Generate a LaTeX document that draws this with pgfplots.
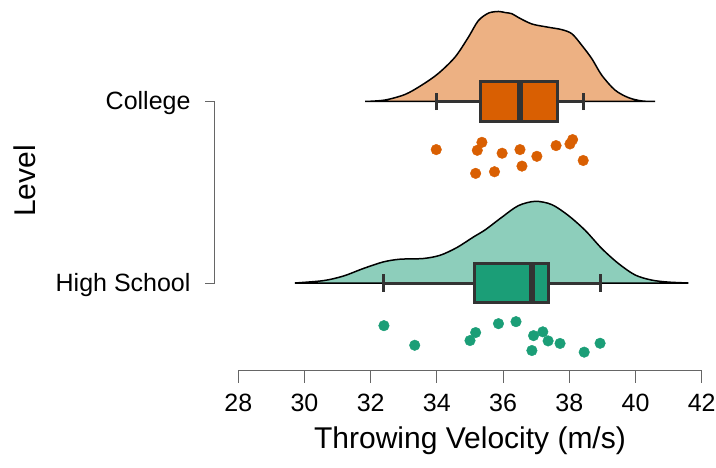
\documentclass[border=0pt]{standalone}
\usepackage{pgfplots}
\pgfplotsset{compat=1.18}
\usepgfplotslibrary{statistics}
\usepackage{fontspec}
\setmainfont{Liberation Sans}
\definecolor{colD}{HTML}{D95F02}
\definecolor{colDl}{HTML}{EDB183}
\definecolor{hsD}{HTML}{1B9E77}
\definecolor{hsDl}{HTML}{8DCEBB}
\definecolor{boxline}{HTML}{333333}
\definecolor{axgray}{HTML}{666666}
\begin{document}
\begin{tikzpicture}
\path[use as bounding box] (0,0) rectangle (716bp,468bp);
\begin{axis}[
  at={(238.3bp,97bp)}, anchor=south west,
  scale only axis, width=463.4bp, height=371bp,
  xmin=28, xmax=42, ymin=0.5152, ymax=2.5592,
  clip=false,
  axis x line*=bottom, axis y line*=left,
  axis line style={-, axgray, line width=1bp},
  y axis line style={draw=none},
  xtick={28,30,...,42},
  ytick={1,2}, yticklabels={High School,College},
  tick align=outside,
  major tick length=11.7bp,
  x tick style={axgray, line width=1bp},
  y tick style={draw=none},
  /pgf/number format/assume math mode=true,
  tick label style={font=\fontsize{25bp}{30bp}\selectfont},
  xticklabel style={anchor=base, inner sep=0pt, yshift=-28.3bp},
  yticklabel style={anchor=base east, inner sep=0pt, xshift=-35.9bp, yshift=-8.5bp},
  xlabel={Throwing Velocity (m/s)},
  ylabel={Level},
  label style={font=\fontsize{30bp}{36bp}\selectfont},
  xlabel style={at={(axis description cs:0.5,0)}, anchor=base, inner sep=0pt, yshift=-77bp},
  ylabel style={at={(axis description cs:-0.4387,0.512)}, anchor=base, inner sep=0pt},
  boxplot/draw direction=x,
]
% densities
\addplot[fill=colDl, draw=black, line width=1.5bp, smooth, tension=0.5] coordinates {
(31.83,2) (32.43,2.008) (33.04,2.039) (33.54,2.090) (34.04,2.154) (34.55,2.245)
(34.95,2.354) (35.25,2.445) (35.56,2.487) (35.86,2.496) (36.06,2.490) (36.26,2.484)
(36.46,2.463) (36.87,2.427) (37.37,2.409) (37.77,2.396) (38.08,2.373) (38.38,2.309)
(38.68,2.236) (38.98,2.145) (39.38,2.063) (39.79,2.021) (40.19,2.003) (40.59,2)
} -- cycle;
\addplot[fill=hsDl, draw=black, line width=1.5bp, smooth, tension=0.5] coordinates {
(29.71,1) (30.57,1.013) (31.17,1.038) (31.78,1.080) (32.38,1.116) (32.88,1.131)
(33.59,1.135) (34.10,1.153) (34.60,1.195) (35.10,1.253) (35.46,1.293) (35.96,1.362)
(36.46,1.426) (36.97,1.450) (37.47,1.432) (37.97,1.372) (38.48,1.290) (38.98,1.190)
(39.48,1.108) (39.99,1.044) (40.49,1.016) (40.99,1.005) (41.60,1)
} -- cycle;
% boxplots
\addplot[fill=colD, draw=boxline, line width=3bp,
  boxplot/every median/.style={line width=6bp},
  boxplot prepared={lower whisker=33.98, lower quartile=35.33, median=36.5,
    upper quartile=37.64, upper whisker=38.42, draw position=2,
    box extend=0.215, whisker extend=0.094}] coordinates {};
\addplot[fill=hsD, draw=boxline, line width=3bp,
  boxplot/every median/.style={line width=6bp},
  boxplot prepared={lower whisker=32.40, lower quartile=35.13, median=36.87,
    upper quartile=37.38, upper whisker=38.93, draw position=1,
    box extend=0.215, whisker extend=0.094}] coordinates {};
% raw points
\addplot[only marks, mark=*, mark size=5.3bp, color=colD] coordinates {
(33.98,1.735) (35.36,1.775) (35.22,1.731) (35.97,1.715) (36.51,1.735) (37.02,1.698)
(37.60,1.757) (38.02,1.766) (38.10,1.790) (38.42,1.675) (35.17,1.604) (35.74,1.613)
(36.57,1.644)
};
\addplot[only marks, mark=*, mark size=5.3bp, color=hsD] coordinates {
(32.40,0.765) (33.33,0.657) (35.17,0.727) (35.00,0.683) (35.86,0.776) (36.39,0.787)
(36.92,0.710) (37.20,0.731) (37.36,0.681) (37.72,0.667) (36.87,0.628) (38.45,0.619)
(38.93,0.668)
};
% y-axis bracket
\draw[axgray, line width=1bp] (axis cs:27.0,1) -- (axis cs:27.296,1) -- (axis cs:27.296,2) -- (axis cs:27.0,2);
\end{axis}
\end{tikzpicture}
\end{document}
